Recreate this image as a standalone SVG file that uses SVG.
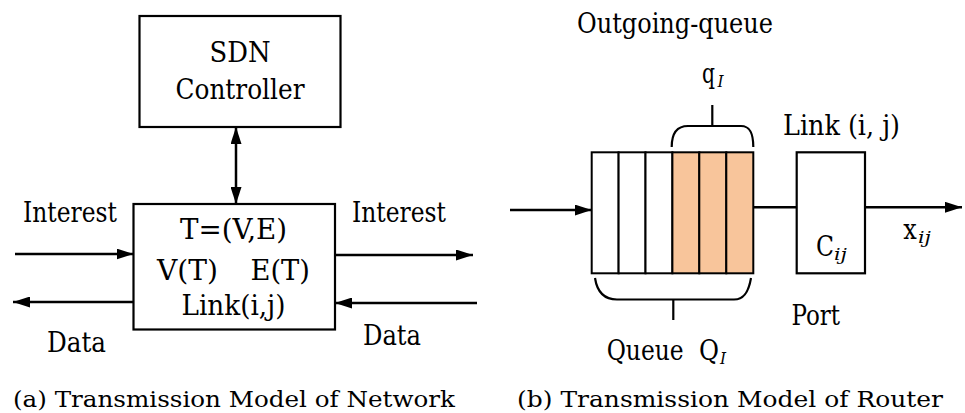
<svg xmlns="http://www.w3.org/2000/svg" width="965" height="413" viewBox="0 0 965 413">
  <style>
    .box { fill: #ffffff; stroke: #000000; stroke-width: 2.2; }
    .cell { fill: #ffffff; stroke: #000000; stroke-width: 2; }
    .cell.hot { fill: #F8C59B; }
    .wire { fill: none; stroke: #000000; stroke-width: 2.5; }
    .brace { fill: none; stroke: #000000; stroke-width: 2.2; }
    text { fill: #000000; }
    .lbl { font-family: 'DejaVu Serif Condensed', 'DejaVu Serif', serif; font-size: 27px; }
    .sub { font-family: 'DejaVu Serif Condensed', 'DejaVu Serif', serif; font-style: italic; font-size: 17px; }
    .cap { font-family: 'DejaVu Serif', serif; font-size: 22px; }
  </style>
  <defs>
    <marker id="head" viewBox="0 0 17 11" refX="17" refY="5.5" markerWidth="17" markerHeight="11" markerUnits="userSpaceOnUse" orient="auto-start-reverse">
      <path d="M0,0 L17,5.5 L0,11 Z" fill="#000000"/>
    </marker>
  </defs>

  <!-- (a) network model -->
  <g id="sdn-controller">
    <rect class="box" x="139.5" y="16" width="201" height="111"/>
    <text class="lbl" x="209.5" y="62" textLength="61" lengthAdjust="spacingAndGlyphs">SDN</text>
    <text class="lbl" x="175.5" y="99" textLength="129" lengthAdjust="spacingAndGlyphs">Controller</text>
  </g>
  <g id="topology">
    <rect class="box" x="133.5" y="204" width="201.5" height="125.5"/>
    <text class="lbl" x="180" y="239" textLength="107" lengthAdjust="spacingAndGlyphs">T=(V,E)</text>
    <text class="lbl" x="157" y="280" textLength="61" lengthAdjust="spacingAndGlyphs">V(T)</text>
    <text class="lbl" x="250.5" y="280" textLength="59.5" lengthAdjust="spacingAndGlyphs">E(T)</text>
    <text class="lbl" x="181.5" y="315" textLength="104" lengthAdjust="spacingAndGlyphs">Link(i,j)</text>
  </g>
  <g id="connectors-a">
    <line class="wire" x1="236" y1="127" x2="236" y2="204" marker-start="url(#head)" marker-end="url(#head)"/>
    <line class="wire" x1="15" y1="254" x2="133.5" y2="254" marker-end="url(#head)"/>
    <line class="wire" x1="335" y1="255" x2="473" y2="255" marker-end="url(#head)"/>
    <line class="wire" x1="133.5" y1="302" x2="13" y2="302" marker-end="url(#head)"/>
    <line class="wire" x1="477" y1="303" x2="335" y2="303" marker-end="url(#head)"/>
  </g>
  <g id="labels-a">
    <text class="lbl" x="23" y="222" textLength="94" lengthAdjust="spacingAndGlyphs">Interest</text>
    <text class="lbl" x="352" y="222" textLength="94" lengthAdjust="spacingAndGlyphs">Interest</text>
    <text class="lbl" x="47" y="352" textLength="59" lengthAdjust="spacingAndGlyphs">Data</text>
    <text class="lbl" x="363" y="345" textLength="58" lengthAdjust="spacingAndGlyphs">Data</text>
  </g>
  <text class="cap" x="13" y="407" textLength="442" lengthAdjust="spacingAndGlyphs">(a) Transmission Model of Network</text>

  <!-- (b) router model -->
  <text class="lbl" x="577" y="33" textLength="196" lengthAdjust="spacingAndGlyphs">Outgoing-queue</text>

  <g id="outgoing-queue">
    <rect class="cell" x="591.7" y="152.3" width="26.9" height="121"/>
    <rect class="cell" x="618.6" y="152.3" width="26.9" height="121"/>
    <rect class="cell" x="645.5" y="152.3" width="26.9" height="121"/>
    <rect class="cell hot" x="672.4" y="152.3" width="26.9" height="121"/>
    <rect class="cell hot" x="699.3" y="152.3" width="27" height="121"/>
    <rect class="cell hot" x="726.3" y="152.3" width="27" height="121"/>
    <!-- brace over the served part q_I -->
    <path class="brace" d="M671.7,147 C671.7,135 676,126 688,126 L741,126 C751,126 753.3,135 753.3,147 M712.3,105 L712.3,126"/>
    <text class="lbl" x="702" y="83" textLength="13" lengthAdjust="spacingAndGlyphs">q</text>
    <text class="sub" x="717.5" y="87">I</text>
    <!-- brace under the whole queue Q_I -->
    <path class="brace" d="M595,278 C597,291 604,299.5 617,299.5 L734,299.5 C745,299.5 749,290 751,278 M673.3,299.5 L673.3,320"/>
    <text class="lbl" x="606.7" y="360" textLength="77" lengthAdjust="spacingAndGlyphs">Queue</text>
    <text class="lbl" x="699" y="360" textLength="20" lengthAdjust="spacingAndGlyphs">Q</text>
    <text class="sub" x="720" y="364">I</text>
  </g>

  <g id="port">
    <rect class="box" x="796.7" y="152.3" width="68.3" height="121"/>
    <text class="lbl" x="816" y="256" textLength="18" lengthAdjust="spacingAndGlyphs">C</text>
    <text class="sub" x="834" y="260" textLength="13" lengthAdjust="spacingAndGlyphs">ij</text>
    <text class="lbl" x="791.5" y="325" textLength="48.5" lengthAdjust="spacingAndGlyphs">Port</text>
    <text class="lbl" x="783" y="135" textLength="117" lengthAdjust="spacingAndGlyphs">Link (i, j)</text>
  </g>

  <g id="connectors-b">
    <line class="wire" x1="510" y1="210" x2="591.7" y2="210" marker-end="url(#head)"/>
    <line class="wire" x1="753.3" y1="207.3" x2="796.7" y2="207.3"/>
    <line class="wire" x1="865" y1="207.3" x2="962" y2="207.3" marker-end="url(#head)"/>
  </g>
  <text class="lbl" x="903.3" y="239" textLength="13.5" lengthAdjust="spacingAndGlyphs">x</text>
  <text class="sub" x="918" y="243" textLength="13" lengthAdjust="spacingAndGlyphs">ij</text>

  <text class="cap" x="517" y="407" textLength="426" lengthAdjust="spacingAndGlyphs">(b) Transmission Model of Router</text>
</svg>
